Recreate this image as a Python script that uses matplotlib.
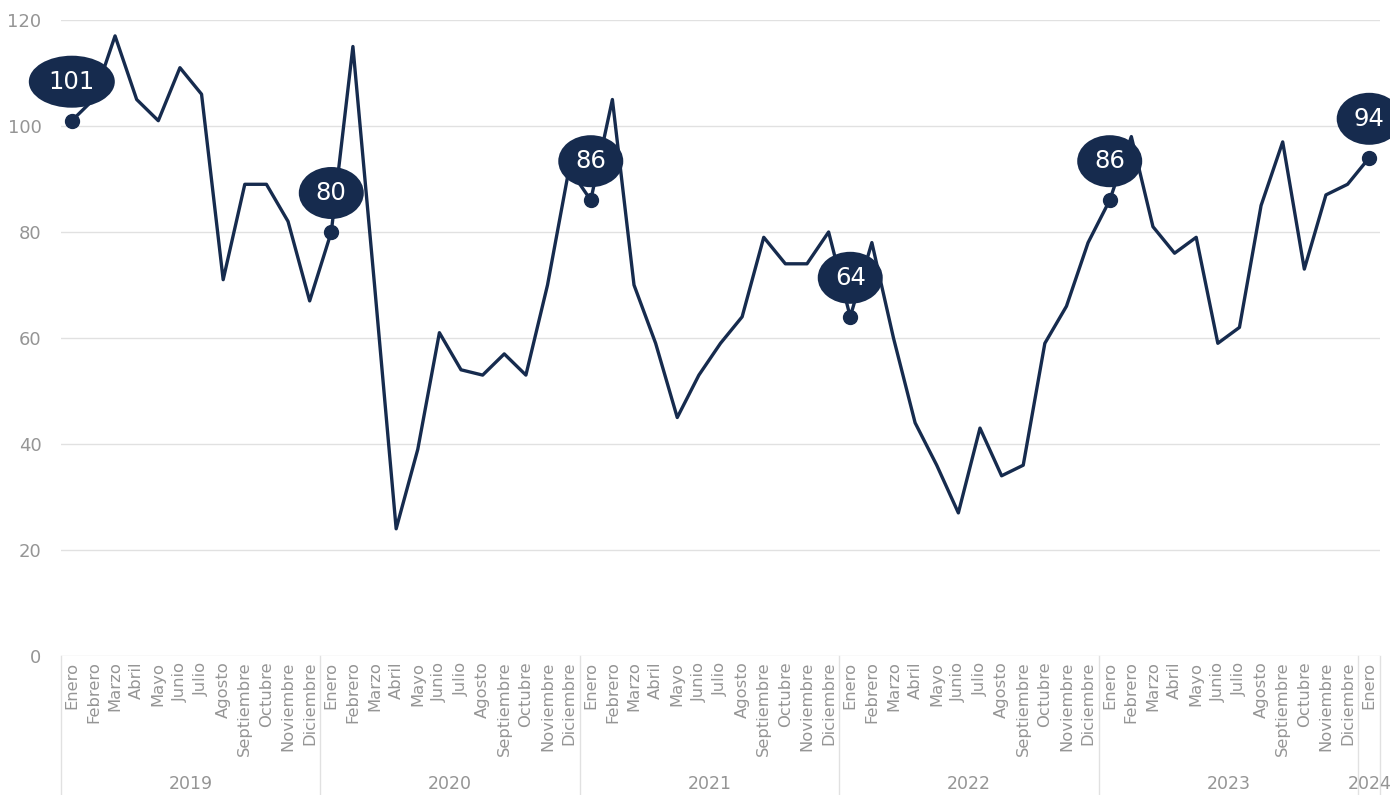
"""Monthly index 2019-2024 with January callouts."""

import matplotlib.pyplot as plt
from matplotlib.patches import Ellipse
from matplotlib.transforms import ScaledTranslation, blended_transform_factory

months = ["Enero", "Febrero", "Marzo", "Abril", "Mayo", "Junio", "Julio",
          "Agosto", "Septiembre", "Octubre", "Noviembre", "Diciembre"]
years = ["2019", "2020", "2021", "2022", "2023", "2024"]

values_2019 = [101, 105, 117, 105, 101, 111, 106, 71, 89, 89, 82, 67]
values_2020 = [80, 115, 70, 24, 39, 61, 54, 53, 57, 53, 70, 92]
values_2021 = [86, 105, 70, 59, 45, 53, 59, 64, 79, 74, 74, 80]
values_2022 = [64, 78, 60, 44, 36, 27, 43, 34, 36, 59, 66, 78]
values_2023 = [86, 98, 81, 76, 79, 59, 62, 85, 97, 73, 87, 89]
values_2024 = [94]

values = values_2019 + values_2020 + values_2021 + values_2022 + values_2023 + values_2024
labels = months * 5 + months[:1]
x = list(range(len(values)))

NAVY = "#162b4e"
GRID = "#e1e1e1"
TEXT = "#959595"

plt.rcParams["font.family"] = ["DejaVu Sans"]

fig = plt.figure(figsize=(13.9, 7.95), dpi=100)
ax = fig.add_axes([61 / 1390, 139 / 795, 1319 / 1390, 636 / 795])

ax.set_xlim(-0.5, len(values) - 0.5)
ax.set_ylim(0, 120)
ax.set_yticks(range(0, 121, 20))
ax.grid(axis="y", color=GRID, linewidth=1)
ax.set_axisbelow(True)
for spine in ax.spines.values():
    spine.set_visible(False)

ax.plot(x, values, color=NAVY, linewidth=2.4, zorder=3)

ax.set_xticks(x)
ax.set_xticklabels(labels, rotation=90, fontsize=11.8, color=TEXT)
ax.tick_params(axis="x", length=0, pad=4)
ax.tick_params(axis="y", length=0, pad=14, labelsize=13, labelcolor=TEXT)

# year separators and labels below the axis
trans = blended_transform_factory(ax.transData, ax.transAxes)
bounds = [-0.5] + [i * 12 - 0.5 for i in range(1, 6)] + [len(values) - 0.5]
for b in bounds:
    ax.plot([b, b], [0, -0.22], color=GRID, linewidth=1, transform=trans, clip_on=False)
for i, year in enumerate(years):
    left, right = bounds[i], bounds[i + 1]
    ax.text((left + right) / 2, -0.215, year, transform=trans, ha="center", va="bottom",
            fontsize=12.5, color=TEXT, clip_on=False)

# January callouts
for i in range(0, len(values), 12):
    v = values[i]
    ax.plot(i, v, "o", color=NAVY, markersize=10, zorder=4)
    bubble_tr = fig.dpi_scale_trans + ScaledTranslation(i, v, ax.transData)
    w = 0.86 if v >= 100 else 0.65
    ax.add_patch(Ellipse((0, 0.39), w, 0.52, facecolor=NAVY, edgecolor="none",
                         transform=bubble_tr, zorder=5, clip_on=False))
    ax.text(0, 0.39, str(v), transform=bubble_tr, ha="center", va="center",
            fontsize=17.5, color="white", zorder=6, clip_on=False)

fig.savefig("out.png", dpi=100)
